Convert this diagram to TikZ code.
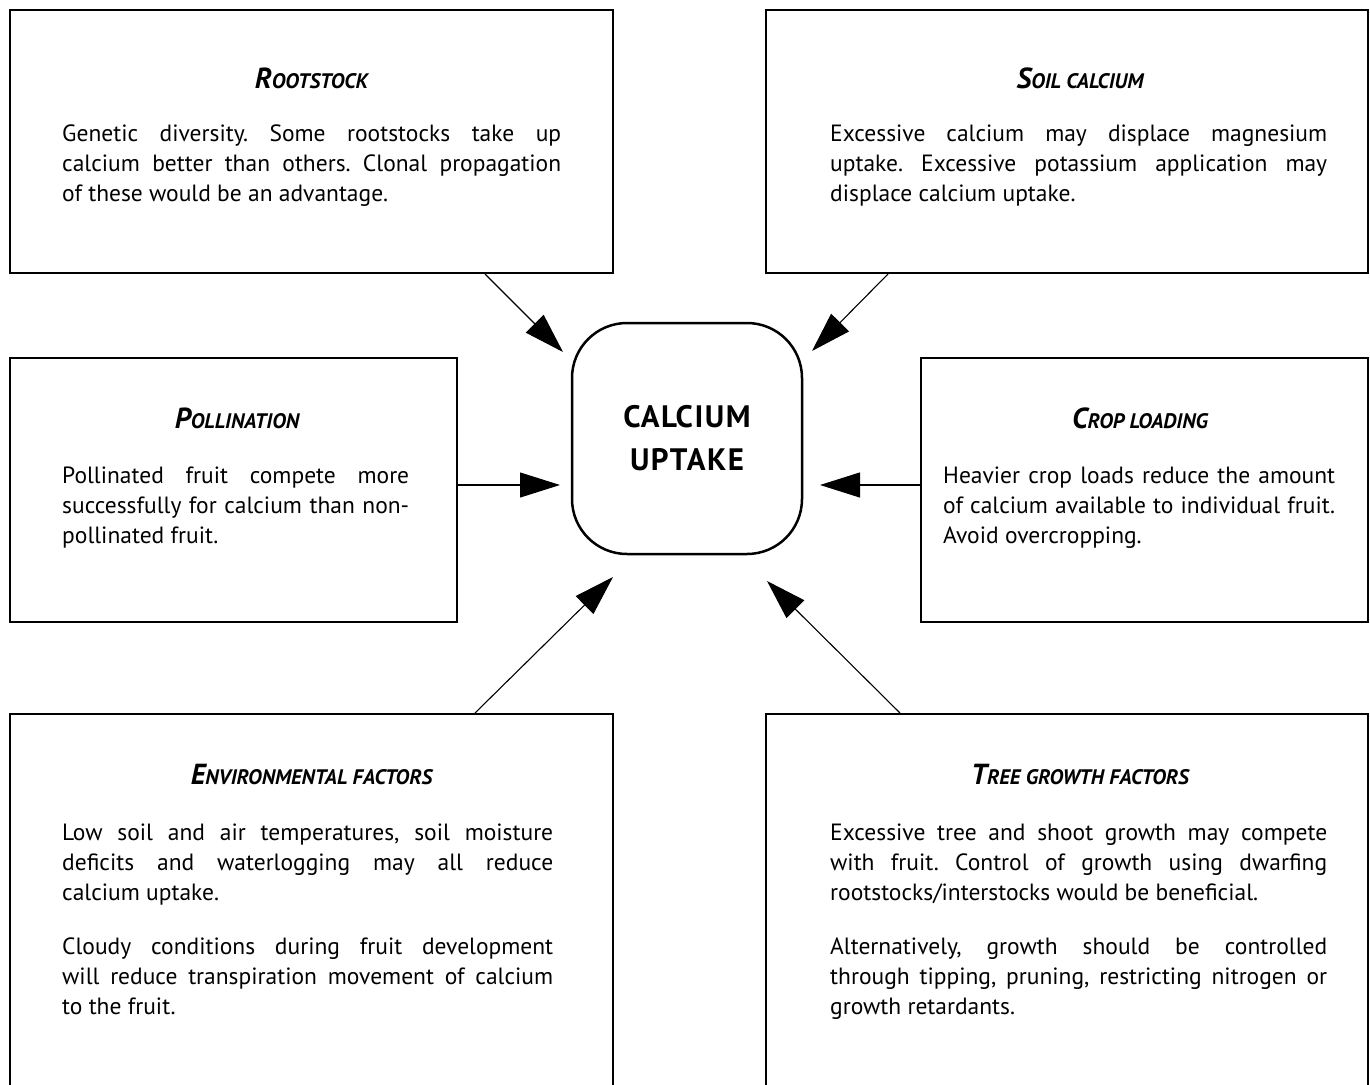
\documentclass[tikz,border=0pt]{standalone}
\usepackage{fontspec}
\setmainfont{PT Sans}
\newfontfamily\hubfont[LetterSpace=5]{PT Sans}
\usetikzlibrary{arrows.meta, positioning}

% heading in bold italic, first letter large, rest as small capitals
\newcommand{\factorhead}[2]{{\bfseries\itshape\fontsize{29}{30}\selectfont #1\fontsize{21}{30}\selectfont\MakeUppercase{#2}}}

\begin{document}
\frenchspacing
\begin{tikzpicture}[x=1pt, y=-1pt, >={Triangle[length=40pt,width=25pt]},
  font=\fontsize{23.5}{30}\selectfont,
  factor/.style={draw, rectangle, line width=2pt, inner sep=0pt},
  head/.style={anchor=base, inner sep=0pt},
  body/.style={anchor=base west, inner sep=0pt, align=justify},
  feed/.style={->, line width=1.1pt}]
  \useasboundingbox (0,0) rectangle (1370,1084);
  \clip (0,0) rectangle (1370,1084);

  %% centre
  \node (hub) at (687,438.5) [draw, rounded corners=55pt, minimum width=230pt, minimum height=231pt,
    line width=2.5pt, align=center, font=\hubfont\bfseries\fontsize{31}{43}\selectfont] {CALCIUM\\UPTAKE};

  %% top row
  \node (root) at (311.5,141.5) [factor, minimum width=603pt, minimum height=263pt] {};
  \node (roothead) at (311.5,88) [head] {\factorhead{R}{ootstock}};
  \node (roottext) at (62,141) [body, text width=499pt]
    {Genetic diversity. Some rootstocks take up\linebreak
     calcium better than others. Clonal propagation\linebreak
     of these would be an advantage.};

  \node (soil) at (1067,141.5) [factor, minimum width=602pt, minimum height=263pt] {};
  \node (soilhead) at (1080,88) [head] {\factorhead{S}{oil calcium}};
  \node (soiltext) at (830,141) [body, text width=497pt]
    {Excessive calcium may displace magnesium\linebreak
     uptake. Excessive potassium application may\linebreak
     displace calcium uptake.};

  %% middle row
  \node (poll) at (233.5,490) [factor, minimum width=447pt, minimum height=264pt] {};
  \node (pollhead) at (237,428) [head] {\factorhead{P}{ollination}};
  \node (polltext) at (62,483) [body, text width=347pt]
    {Pollinated fruit compete more\linebreak
     successfully for calcium than non-\linebreak
     pollinated fruit.};

  \node (crop) at (1144.5,490) [factor, minimum width=447pt, minimum height=264pt] {};
  \node (crophead) at (1140,428) [head] {\factorhead{C}{rop loading}};
  \node (croptext) at (943,483) [body, text width=392pt]
    {Heavier crop loads reduce the amount\linebreak
     of calcium available to individual fruit.\linebreak
     Avoid overcropping.};

  %% bottom row, runs off the page
  \node (env) at (311.5,907) [factor, minimum width=603pt, minimum height=386pt] {};
  \node (envhead) at (311.5,784) [head] {\factorhead{E}{nvironmental factors}};
  \node (envtext) at (62,840) [body, text width=491pt]
    {Low soil and air temperatures, soil moisture\linebreak
     deficits and waterlogging may all reduce\linebreak
     calcium uptake.\par\vspace{24pt}
     Cloudy conditions during fruit development\linebreak
     will reduce transpiration movement of calcium\linebreak
     to the fruit.};

  \node (tree) at (1067,907) [factor, minimum width=602pt, minimum height=386pt] {};
  \node (treehead) at (1080,784) [head] {\factorhead{T}{ree growth factors}};
  \node (treetext) at (830,840) [body, text width=497pt]
    {Excessive tree and shoot growth may compete\linebreak
     with fruit. Control of growth using dwarfing\linebreak
     rootstocks/interstocks would be beneficial.\par\vspace{24pt}
     Alternatively, growth should be controlled\linebreak
     through tipping, pruning, restricting nitrogen or\linebreak
     growth retardants.};

  %% arrow tips, short of the centre box
  \coordinate (roottip) at (563,352);
  \coordinate (soiltip) at (812,351);
  \coordinate (polltip) at (560,485);
  \coordinate (croptip) at (820,485);
  \coordinate (envtip)  at (613,577);
  \coordinate (treetip) at (767,581);

  \draw[feed] ([xshift=173.5pt]root.south) -- (roottip);
  \draw[feed] ([xshift=-179pt]soil.south) -- (soiltip);
  \draw[feed] ([yshift=5pt]poll.east) -- (polltip);
  \draw[feed] ([yshift=5pt]crop.west) -- (croptip);
  \draw[feed] ([xshift=163.5pt]env.north) -- (envtip);
  \draw[feed] ([xshift=-167pt]tree.north) -- (treetip);
\end{tikzpicture}
\end{document}
